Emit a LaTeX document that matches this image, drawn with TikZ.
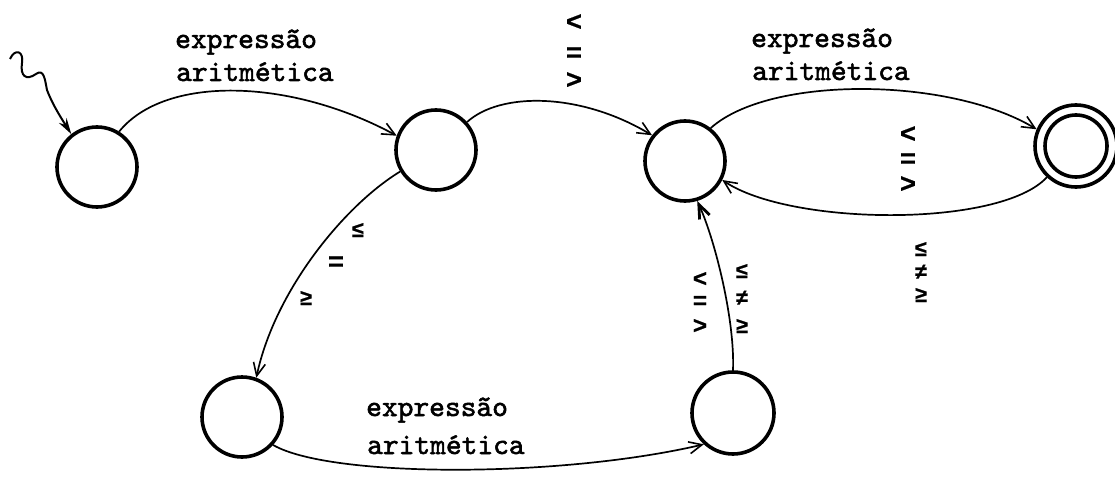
\documentclass[tikz,border=0pt]{standalone}
\usepackage{fontspec}
\usetikzlibrary{arrows.meta}
\newfontfamily\tw{lmmono10-regular.otf}[FakeBold=1.8]
\newfontfamily\symfont{Liberation Mono}[FakeBold=0.6]
\begin{document}
\begin{tikzpicture}[x=1pt,y=-1pt,
  state/.style={circle,draw,line width=3.6pt,minimum size=80pt,inner sep=0pt},
  edge/.style={line width=1.7pt,-{Straight Barb[length=13pt,width=12pt,line width=1.6pt]}},
  heavyedge/.style={line width=1.7pt,-{Straight Barb[length=14pt,width=11pt,line width=2.8pt]}},
  initedge/.style={line width=2pt,-{Stealth[length=16pt,width=9pt]}},
  lab/.style={font=\tw\fontsize{30}{34}\selectfont,anchor=base west,inner sep=0pt},
  sym/.style={font=\symfont\bfseries\fontsize{27}{28}\selectfont,inner sep=0pt,
    text height=15pt,text depth=0pt},
  symsmall/.style={font=\symfont\bfseries\fontsize{24}{25}\selectfont,inner sep=0pt,
    text height=13pt,text depth=0pt},
  rel/.style={font=\symfont\bfseries\fontsize{22}{24}\selectfont,inner sep=0pt,
    text height=12pt,text depth=0pt}]
\fill[white] (0,0) rectangle (1115,476);
\useasboundingbox (0,0) rectangle (1115,476);

% states
\node[state] (q0) at (97,167) {};
\node[state] (q1) at (436,150) {};
\node[state] (q2) at (685,161) {};
\node[state,minimum size=82pt] (q3) at (1076,146) {};
\node[circle,draw,line width=3.6pt,minimum size=62pt,inner sep=0pt] (q3i) at (q3) {};
\node[state] (q4) at (242,417) {};
\node[state,minimum size=82pt] (q5) at (733,413) {};

% initial arrow
\coordinate (init) at (10,59);
\draw[initedge] (init) .. controls (15,48) and (24,51) .. (22,63)
  .. controls (20,76) and (26,81) .. (36,74)
  .. controls (44,68) and (45,80) .. (47,90)
  .. controls (52,103) and (58,113) .. (q0.128);

% transitions
\draw[edge] (q0.58) .. controls (165,75) and (290,78) .. (q1.160);
\draw[edge] (q1.42) .. controls (500,92) and (580,92) .. (q2.142);
\draw[edge] (q2.52) .. controls (770,75) and (950,77) .. (q3.157);
\draw[edge] (q3.227) .. controls (1000,228) and (790,226) .. (q2.333);
\draw[edge] (q1.211) .. controls (345,205) and (275,290) .. (q4.70);
\draw[edge] (q4.318) .. controls (330,478) and (560,478) .. (q5.227);
\draw[heavyedge] (q5.90) .. controls (735,320) and (715,240) .. (q2.287);

% text labels
\node[lab] (t1a) at (175,48) {expressão};
\node[lab] (t1b) at (176,81) {aritmética};
\node[lab] (t2a) at (751,47) {expressão};
\node[lab] (t2b) at (752,80) {aritmética};
\node[lab] (t3a) at (366,416) {expressão};
\node[lab] (t3b) at (367,454) {aritmética};

% symbol labels q1->q2
\node[sym] (a1) at (574,23) {<};
\node[sym] (a2) at (574,54) {=};
\node[sym] (a3) at (574,81) {>};
% q3->q2 inner
\node[sym] (b1) at (908,135) {<};
\node[sym] (b2) at (908,160) {=};
\node[sym] (b3) at (908,185) {>};
% q3->q2 below
\node[rel] (c1) at (921,250) {≤};
\node[rel] (c2) at (921,273) {≠};
\node[rel] (c3) at (921,296) {≥};
% q1->q4
\node[rel] (d1) at (358,231) {≤};
\node[sym] (d2) at (336,263) {=};
\node[rel] (d3) at (306,299) {≥};
% q5->q2
\node[symsmall] (e1) at (700,280) {<};
\node[symsmall] (e2) at (700,302) {=};
\node[symsmall] (e3) at (700,327) {>};
\node[rel] (f1) at (742,272) {≤};
\node[rel] (f2) at (742,299) {≠};
\node[rel] (f3) at (742,327) {≥};
\end{tikzpicture}
\end{document}
